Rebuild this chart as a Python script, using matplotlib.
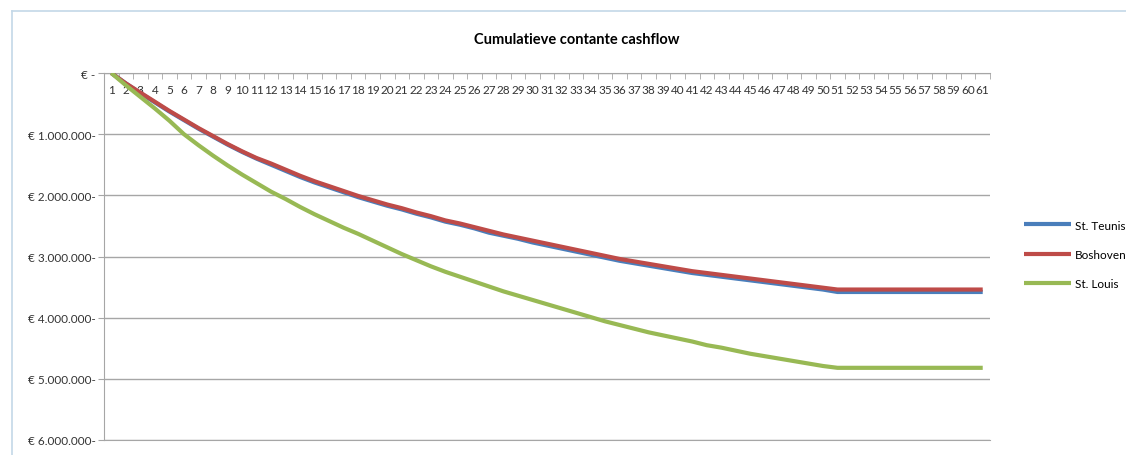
import matplotlib.pyplot as plt
from matplotlib.lines import Line2D
from matplotlib.ticker import FuncFormatter, MultipleLocator

plt.rcParams['font.family'] = ['Lato', 'DejaVu Sans']

# periods (years) 1..61
periods = list(range(1, 62))

# cumulative discounted cashflow, in millions of euro
st_teunis = [0, -0.17, -0.33, -0.48, -0.63, -0.77, -0.91, -1.04, -1.17, -1.29,
             -1.40, -1.50, -1.60, -1.70, -1.79, -1.87, -1.95, -2.03, -2.10, -2.17,
             -2.23, -2.30, -2.36, -2.43, -2.48, -2.54, -2.61, -2.66, -2.71, -2.77,
             -2.82, -2.87, -2.92, -2.97, -3.02, -3.07, -3.11, -3.15, -3.19, -3.23,
             -3.27, -3.30, -3.33, -3.36, -3.39, -3.42, -3.45, -3.48, -3.51, -3.54,
             -3.58, -3.58, -3.58, -3.58, -3.58, -3.58, -3.58, -3.58, -3.58, -3.58,
             -3.58]
boshoven = [0, -0.17, -0.32, -0.47, -0.62, -0.76, -0.90, -1.03, -1.16, -1.28,
            -1.39, -1.48, -1.58, -1.68, -1.77, -1.85, -1.93, -2.01, -2.08, -2.15,
            -2.21, -2.28, -2.34, -2.41, -2.46, -2.52, -2.58, -2.64, -2.69, -2.74,
            -2.79, -2.84, -2.89, -2.94, -2.99, -3.04, -3.08, -3.12, -3.16, -3.20,
            -3.24, -3.27, -3.30, -3.33, -3.36, -3.39, -3.42, -3.45, -3.48, -3.51,
            -3.54, -3.54, -3.54, -3.54, -3.54, -3.54, -3.54, -3.54, -3.54, -3.54,
            -3.54]
st_louis = [0, -0.20, -0.39, -0.58, -0.78, -1.00, -1.18, -1.35, -1.51, -1.66,
            -1.80, -1.94, -2.06, -2.19, -2.31, -2.42, -2.53, -2.63, -2.74, -2.85,
            -2.96, -3.06, -3.16, -3.25, -3.33, -3.41, -3.49, -3.57, -3.64, -3.71,
            -3.78, -3.85, -3.92, -3.99, -4.06, -4.12, -4.18, -4.24, -4.29, -4.34,
            -4.39, -4.45, -4.49, -4.54, -4.59, -4.63, -4.67, -4.71, -4.75, -4.79,
            -4.82, -4.82, -4.82, -4.82, -4.82, -4.82, -4.82, -4.82, -4.82, -4.82,
            -4.82]

series = {
    "St. Teunis": (st_teunis, "#4a7ebb"),
    "Boshoven": (boshoven, "#be4b48"),
    "St. Louis": (st_louis, "#98b954"),
}

fig = plt.figure(figsize=(11.26, 4.56), dpi=100)
ax = fig.add_axes([0.0924, 0.0329, 0.7868, 0.8048])

for name, (vals, color) in series.items():
    ax.plot(periods, [v * 1e6 for v in vals], color=color, lw=3,
            label=name, solid_capstyle='butt', zorder=3)

ax.set_xlim(0.5, 61.5)
ax.set_ylim(-6e6, 0)

# y axis: euro labels with trailing minus, gridlines every million
ax.yaxis.set_major_locator(MultipleLocator(1e6))
ax.yaxis.set_major_formatter(FuncFormatter(
    lambda v, p: "€ -" if abs(v) < 1 else "€ " + f"{abs(v):,.0f}".replace(",", ".") + "-"))
ax.grid(axis='y', color='#a6a6a6', lw=1)
ax.tick_params(axis='y', direction='out', length=4, color='#a6a6a6',
               labelsize=8.5, labelcolor='#333333', pad=2)

# category axis sits at the top (value 0), labels below it
ax.xaxis.set_ticks_position('top')
ax.set_xticks(periods)
ax.set_xticks([p + 0.5 for p in [0] + periods], minor=True)
ax.tick_params(axis='x', which='major', length=0, labeltop=True, labelbottom=False,
               labelsize=8.5, labelcolor='#333333', pad=-15.5)
ax.tick_params(axis='x', which='minor', direction='in', length=4, color='#a6a6a6')

ax.spines['right'].set_visible(False)
for side in ['top', 'left', 'bottom']:
    ax.spines[side].set_color('#a6a6a6')
ax.set_axisbelow(True)

fig.text(0.512, 0.912, "Cumulatieve contante cashflow", ha='center', va='center',
         fontsize=10.5, fontweight='bold', color='black')

fig.legend(loc='center left', bbox_to_anchor=(0.9, 0.44), frameon=False,
           fontsize=8.5, handlelength=4.0, labelspacing=1.55, handletextpad=0.3)

# light blue chart-area border (top and left edges)
fig.add_artist(Line2D([12 / 1126, 1], [1 - 12 / 456, 1 - 12 / 456],
                      transform=fig.transFigure, color='#c3d8e8', lw=1.2))
fig.add_artist(Line2D([12 / 1126, 12 / 1126], [0, 1 - 12 / 456],
                      transform=fig.transFigure, color='#c3d8e8', lw=1.2))

fig.savefig("out.png", dpi=100)
